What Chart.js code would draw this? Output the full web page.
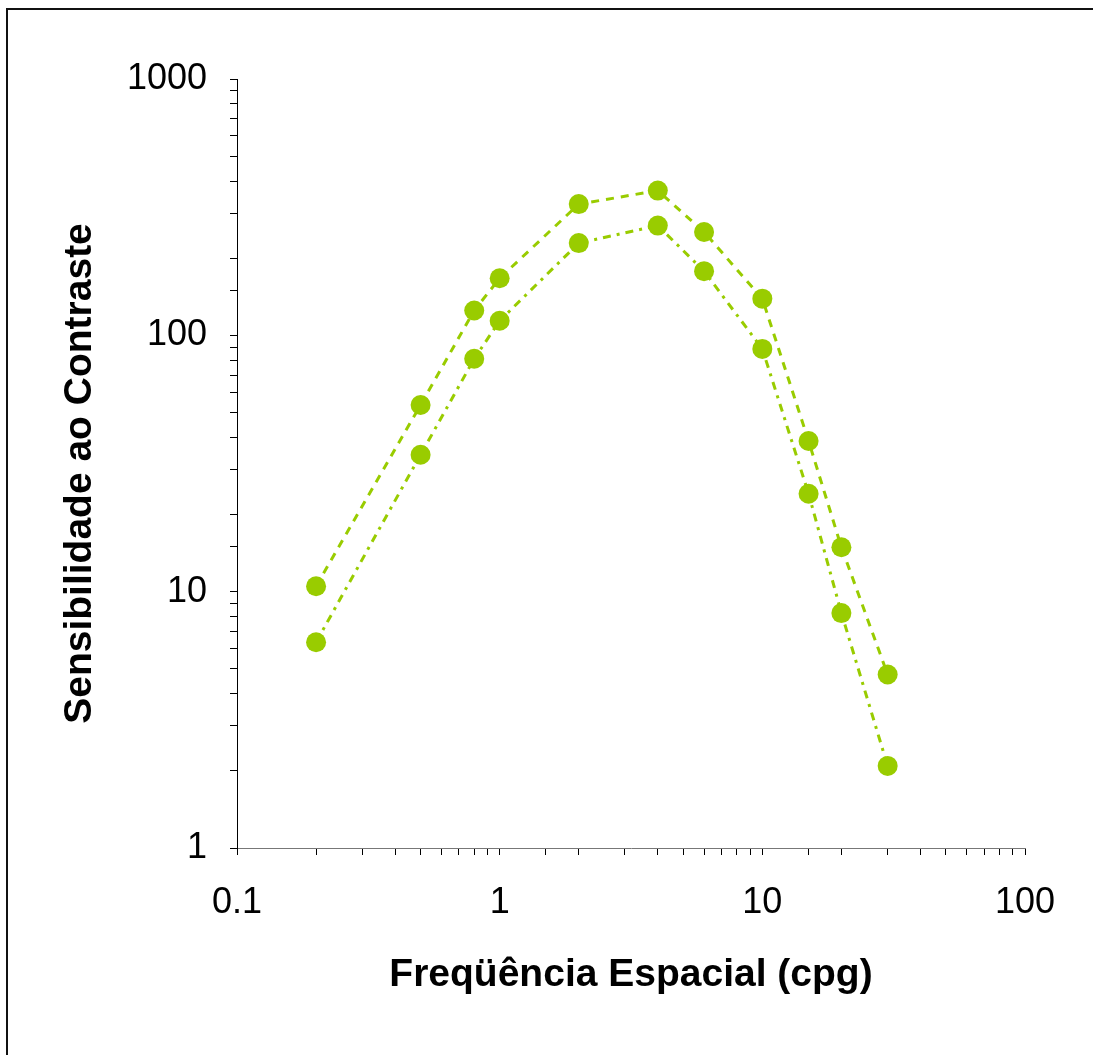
<!DOCTYPE html>
<html>
<head>
<meta charset="utf-8">
<script src="https://cdn.jsdelivr.net/npm/chart.js@4/dist/chart.umd.min.js"></script>
<style>
  html, body { margin: 0; padding: 0; background: #ffffff; overflow: hidden; }
  #wrap { position: relative; width: 1093px; height: 1055px; overflow: hidden; }
  #frameTop {
    position: absolute; left: 6px; top: 8px; width: 1087px; height: 2px;
    background: #111; pointer-events: none;
  }
  #frameLeft {
    position: absolute; left: 6px; top: 8px; width: 2px; height: 1047px;
    background: #111; pointer-events: none;
  }
  canvas { position: absolute; left: 0; top: 0; }
</style>
</head>
<body>
<div id="wrap">
  <canvas id="csf" width="1093" height="1055"></canvas>
  <div id="frameTop"></div>
  <div id="frameLeft"></div>
</div>
<script>
// Spatial frequencies (cycles per degree)
const frequencies = [0.2, 0.5, 0.8, 1, 2, 4, 6, 10, 15, 20, 30];
// Contrast sensitivity, upper curve
const sensitivityUpper = [10.5, 53.5, 125, 167, 325, 367, 253, 139, 38.7, 14.9, 4.75];
// Contrast sensitivity, lower curve
const sensitivityLower = [6.35, 34.2, 81, 114, 229, 268, 178, 88.5, 24.1, 8.25, 2.09];

const xTitle = 'Freqüência Espacial (cpg)';
const yTitle = 'Sensibilidade ao Contraste';

const green = '#99CC00';
const toPoints = (ys) => frequencies.map((f, i) => ({ x: f, y: ys[i] }));

// Only decades get a label; the other log ticks keep just their tick mark.
function decadeLabel(value) {
  const l = Math.log10(value);
  if (Math.abs(l - Math.round(l)) < 1e-9) {
    return value < 1 ? value.toFixed(1) : String(Math.round(value));
  }
  return '';
}

const tickFont = { family: "'Liberation Sans', Arial, sans-serif", size: 36 };
const titleFont = { family: "'Liberation Sans', Arial, sans-serif", size: 39, weight: 'bold' };

// Nudges the vertical axis title a little below the centre of the axis.
const yTitleShift = {
  id: 'yTitleShift',
  afterLayout(chart) {
    const s = chart.scales.y;
    if (s._shiftWrapped) return;
    const draw = s.drawTitle;
    s.drawTitle = function () {
      const dy = 10;
      this.top += dy; this.bottom += dy;
      draw.call(this);
      this.top -= dy; this.bottom -= dy;
    };
    s._shiftWrapped = true;
  }
};

new Chart(document.getElementById('csf'), {
  type: 'scatter',
  data: {
    datasets: [
      {
        data: toPoints(sensitivityUpper),
        showLine: true,
        borderColor: green,
        borderWidth: 3,
        borderDash: [8, 7],
        pointRadius: 10,
        pointHoverRadius: 10,
        pointBackgroundColor: green,
        pointBorderWidth: 0
      },
      {
        data: toPoints(sensitivityLower),
        showLine: true,
        borderColor: green,
        borderWidth: 3,
        borderDash: [8, 6, 3, 6],
        pointRadius: 10,
        pointHoverRadius: 10,
        pointBackgroundColor: green,
        pointBorderWidth: 0
      }
    ]
  },
  options: {
    responsive: false,
    animation: false,
    events: [],
    layout: { padding: { top: 79, right: 68, bottom: 0, left: 0 } },
    plugins: {
      legend: { display: false },
      tooltip: { enabled: false }
    },
    scales: {
      x: {
        type: 'logarithmic',
        position: 'bottom',
        min: 0.1,
        max: 100,
        afterFit: (scale) => { scale.height = 207; },
        border: { display: true, color: '#777777', width: 1 },
        grid: { drawOnChartArea: false, drawTicks: true, tickLength: 7, color: '#000000', tickWidth: 1 },
        ticks: {
          autoSkip: false,
          maxRotation: 0,
          padding: 26,
          color: '#000000',
          font: tickFont,
          callback: (v) => decadeLabel(v)
        },
        title: {
          display: true,
          text: xTitle,
          color: '#000000',
          font: titleFont,
          padding: { top: 0, bottom: 56 }
        }
      },
      y: {
        type: 'logarithmic',
        position: 'left',
        min: 1,
        max: 1000,
        afterFit: (scale) => { scale.width = 237; },
        border: { display: true, color: '#000000', width: 1 },
        grid: { drawOnChartArea: false, drawTicks: true, tickLength: 7, color: '#000000', tickWidth: 1 },
        ticks: {
          autoSkip: false,
          padding: 23,
          color: '#000000',
          font: tickFont,
          callback: (v) => decadeLabel(v)
        },
        title: {
          display: true,
          text: yTitle,
          color: '#000000',
          font: titleFont,
          padding: { top: 57, bottom: 0 }
        }
      }
    }
  },
  plugins: [yTitleShift]
});
</script>
</body>
</html>
